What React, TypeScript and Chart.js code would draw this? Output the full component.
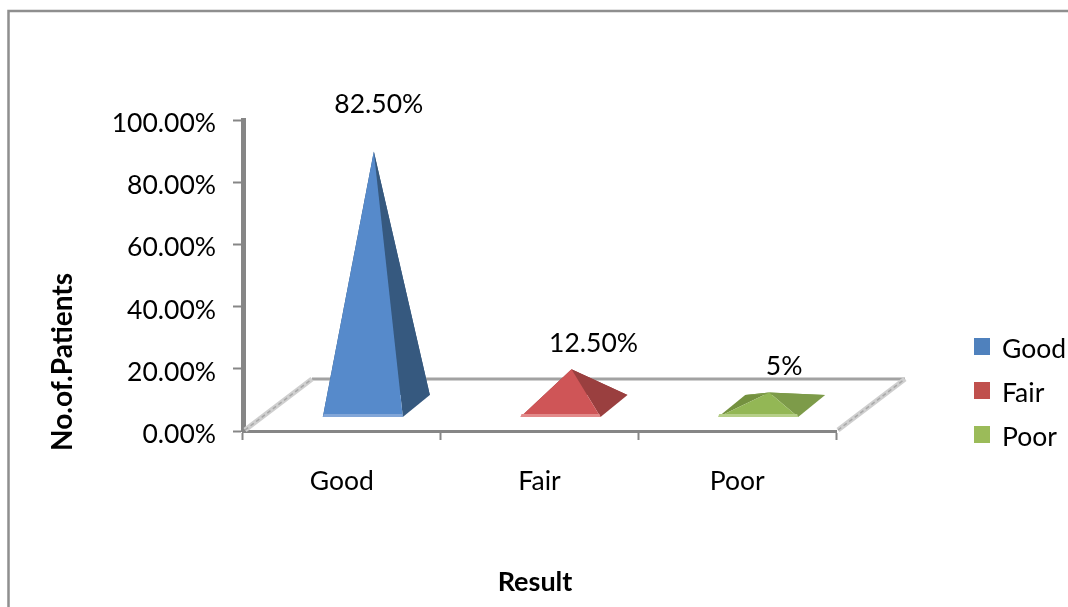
import React, { useEffect, useRef } from "react";
import { Chart, registerables } from "chart.js";

Chart.register(...registerables);

// Outcome categories and the share of patients in each one
const categories = ["Good", "Fair", "Poor"];
const shares = [82.5, 12.5, 5];
const shareLabels = ["82.50%", "12.50%", "5%"];
const yTicks = [0, 20, 40, 60, 80, 100];

// Face shades of each pyramid
const legendColors = ["#4f81bd", "#c0504d", "#9bbb59"];
const frontColors = ["#568acb", "#cf5557", "#93b755"];
const sideColors = ["#36597f", "#9a3f3f", "#7d9b49"];
const backColors = ["#2f4f73", "#8a3838", "#74913f"];
const rimColors = ["#82a6d8", "#e38a8a", "#b6cf88"];

const FONT = "Lato, Carlito, sans-serif";
const LABEL_SIZE = 26.5;
const AXIS_GREY = "#868686";

// Oblique projection of the chart floor
const DEPTH_X = 69;
const DEPTH_Y = 52;
const BASE_HALF = 40;
const BASE_DEPTH_X = 27;
const BASE_DEPTH_Y = 22;
const BASE_SHIFT = 21;
const FRONT_Y_ABOVE_AXIS = 14;
const APEX_SHIFT_X = 11;
const APEX_LIFT = 23;

// Where each value label sits relative to its pyramid's apex
const labelShiftX = [5, 22, 15];
const labelLift = [47, 26, 26];

function poly(ctx: CanvasRenderingContext2D, pts: number[][], fill: string) {
  ctx.beginPath();
  pts.forEach(([x, y], i) => (i ? ctx.lineTo(x, y) : ctx.moveTo(x, y)));
  ctx.closePath();
  ctx.fillStyle = fill;
  ctx.fill();
}

const pyramidPlugin = {
  id: "pyramids",
  beforeDatasetsDraw(chart: any) {
    const { ctx, chartArea: a } = chart;
    const y0 = a.bottom;
    ctx.save();
    // outer chart frame, running off the right and bottom edges
    ctx.strokeStyle = "#8f8f8f";
    ctx.lineWidth = 2.5;
    ctx.beginPath();
    ctx.moveTo(8.5, 620);
    ctx.lineTo(8.5, 11);
    ctx.lineTo(1080, 11);
    ctx.stroke();
    // back edge of the floor
    ctx.strokeStyle = "#a2a2a2";
    ctx.lineWidth = 3;
    ctx.beginPath();
    ctx.moveTo(a.left + DEPTH_X, y0 - DEPTH_Y);
    ctx.lineTo(a.right + DEPTH_X, y0 - DEPTH_Y);
    ctx.stroke();
    // side edges of the floor
    for (const x of [a.left, a.right]) {
      ctx.strokeStyle = "#cfcfcf";
      ctx.lineWidth = 5;
      ctx.beginPath();
      ctx.moveTo(x + 2, y0 - 1);
      ctx.lineTo(x + DEPTH_X, y0 - DEPTH_Y);
      ctx.stroke();
      ctx.strokeStyle = "#a8a8a8";
      ctx.lineWidth = 1.5;
      ctx.setLineDash([4, 3]);
      ctx.beginPath();
      ctx.moveTo(x + 2, y0 - 1);
      ctx.lineTo(x + DEPTH_X, y0 - DEPTH_Y);
      ctx.stroke();
      ctx.setLineDash([]);
    }
    ctx.restore();
  },
  afterDatasetsDraw(chart: any) {
    const { ctx, chartArea: a, scales } = chart;
    const meta = chart.getDatasetMeta(0);
    const frontY = a.bottom - FRONT_Y_ABOVE_AXIS;
    ctx.save();
    meta.data.forEach((bar: any, i: number) => {
      const cx = bar.x + BASE_SHIFT;
      const apex = [cx + APEX_SHIFT_X, scales.y.getPixelForValue(shares[i]) - APEX_LIFT];
      const fl = [cx - BASE_HALF, frontY];
      const fr = [cx + BASE_HALF, frontY];
      const br = [cx + BASE_HALF + BASE_DEPTH_X, frontY - BASE_DEPTH_Y];
      const bl = [cx - BASE_HALF + BASE_DEPTH_X, frontY - BASE_DEPTH_Y];
      poly(ctx, [fl, bl, apex], backColors[i]);
      poly(ctx, [bl, br, apex], sideColors[i]);
      poly(ctx, [fr, br, apex], sideColors[i]);
      poly(ctx, [fl, fr, apex], frontColors[i]);
      poly(ctx, [fl, fr, [fr[0] - 1, fr[1] - 3], [fl[0] + 1, fl[1] - 3]], rimColors[i]);

      ctx.fillStyle = "#000";
      ctx.font = `${LABEL_SIZE}px ${FONT}`;
      ctx.textAlign = "center";
      ctx.textBaseline = "middle";
      ctx.fillText(shareLabels[i], apex[0] + labelShiftX[i], apex[1] - labelLift[i]);
    });

    // legend
    categories.forEach((name, i) => {
      const y = 349 + i * 44;
      ctx.fillStyle = legendColors[i];
      ctx.fillRect(974, y - 11, 16, 17);
      ctx.fillStyle = "#000";
      ctx.font = `${LABEL_SIZE}px ${FONT}`;
      ctx.textAlign = "left";
      ctx.textBaseline = "middle";
      ctx.fillText(name, 1002, y);
    });

    // axis titles
    ctx.font = `bold 27px ${FONT}`;
    ctx.textAlign = "center";
    ctx.textBaseline = "middle";
    ctx.fillText("Result", 535, 582);
    ctx.font = `bold 28px ${FONT}`;
    ctx.translate(63, 362);
    ctx.rotate(-Math.PI / 2);
    ctx.fillText("No.of.Patients", 0, 0);
    ctx.restore();
  },
};

export default function App() {
  const ref = useRef<HTMLCanvasElement>(null);

  useEffect(() => {
    const chart = new Chart(ref.current!, {
      type: "bar",
      plugins: [pyramidPlugin],
      data: {
        labels: categories,
        datasets: [{ label: "Result", data: shares, backgroundColor: "transparent", borderWidth: 0 }],
      },
      options: {
        animation: false,
        responsive: false,
        events: [],
        layout: { padding: { left: 0, right: 232, top: 120, bottom: 0 } },
        plugins: { legend: { display: false }, tooltip: { enabled: false }, title: { display: false } },
        scales: {
          x: {
            afterFit: (s: any) => {
              s.height = 176;
            },
            border: { display: true, width: 3, color: AXIS_GREY },
            grid: {
              drawOnChartArea: false,
              color: "transparent",
              tickColor: AXIS_GREY,
              tickLength: 9,
              tickWidth: 2,
              offset: true,
            },
            ticks: { color: "#000", padding: 26, font: { family: FONT, size: LABEL_SIZE } },
          },
          y: {
            min: yTicks[0],
            max: yTicks[yTicks.length - 1],
            afterFit: (s: any) => {
              s.width = 243;
            },
            afterBuildTicks: (s: any) => {
              s.ticks = yTicks.map((value) => ({ value }));
            },
            border: { display: true, width: 5, color: AXIS_GREY },
            grid: {
              drawOnChartArea: false,
              color: "transparent",
              tickColor: AXIS_GREY,
              tickLength: 10,
              tickWidth: 2,
            },
            ticks: {
              color: "#000",
              padding: 17,
              // the empty first line drops each label a few pixels below its tick
              font: { family: FONT, size: LABEL_SIZE, lineHeight: "7px" },
              callback: (v: any) => ["", `${Number(v).toFixed(2)}%`],
            },
          },
        },
      },
    });
    return () => chart.destroy();
  }, []);

  return (
    <canvas
      ref={ref}
      width={1068}
      height={607}
      style={{ position: "absolute", left: 0, top: 0, width: 1068, height: 607, background: "#fff" }}
    />
  );
}
